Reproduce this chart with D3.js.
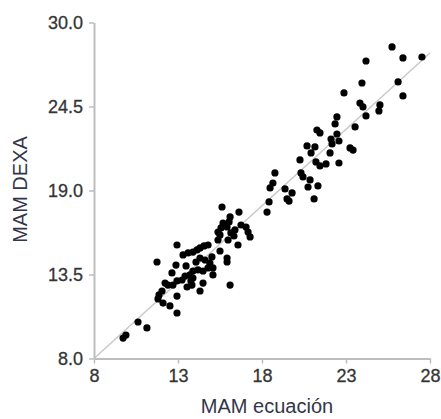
<!DOCTYPE html>
<html>
<head>
<meta charset="utf-8">
<script src="https://cdn.jsdelivr.net/npm/d3@7/dist/d3.min.js"></script>
<style>
  html, body { margin: 0; padding: 0; background: #fff; }
  svg { display: block; }
  text { font-family: "Liberation Sans", Arial, sans-serif; }
</style>
</head>
<body>
<svg id="chart" width="441" height="419"></svg>
<script>
// ---- Data ----
const xTicks = [8, 13, 18, 23, 28];
const yTicks = [8.0, 13.5, 19.0, 24.5, 30.0];
const xTitle = "MAM ecuación";
const yTitle = "MAM DEXA";
// MAM ecuación (x) values
const mamEcuacion = [
  25.74, 26.39, 27.52, 24.19, 23.95, 26.10, 22.88, 26.39, 23.83, 24.01,
  25.02, 24.96, 24.19, 23.54, 22.46, 22.35, 21.27, 21.45, 22.46, 22.11,
  22.58, 22.17, 20.68, 21.15, 23.24, 23.42, 20.92, 22.05, 20.26, 21.21,
  21.45, 21.81, 22.58, 18.77, 20.32, 20.44, 20.86, 20.74, 18.65, 18.48,
  21.33, 19.37, 19.79, 19.49, 19.61, 21.10, 18.42, 18.30, 15.62, 16.63,
  16.10, 16.04, 15.92, 15.68, 15.56, 15.38, 15.50, 16.75, 17.05, 17.17,
  17.29, 16.39, 16.15, 16.33, 16.57, 12.94, 13.30, 13.60, 13.89, 14.13,
  14.31, 14.55, 14.79, 15.38, 15.98, 15.50, 15.92, 15.92, 11.75, 12.88,
  12.64, 14.31, 14.61, 14.90, 15.08, 14.79, 14.49, 14.19, 13.89, 13.71,
  13.42, 13.24, 12.94, 12.70, 12.40, 12.23, 12.05, 11.87, 11.81, 14.49,
  14.31, 13.83, 13.54, 12.94, 12.11, 12.52, 12.94, 16.10, 15.08, 10.62,
  11.15, 9.90, 9.73, 15.02, 14.07, 13.48, 13.89, 13.77
];
// MAM DEXA (y) values
const mamDexa = [
  28.40, 27.68, 27.74, 27.48, 26.04, 26.11, 25.39, 25.19, 24.73, 24.47,
  24.60, 24.21, 23.88, 23.16, 23.82, 23.36, 22.96, 22.77, 22.70, 22.37,
  22.24, 22.05, 21.92, 21.85, 21.79, 21.65, 21.46, 21.46, 21.00, 20.87,
  20.61, 20.74, 20.80, 20.15, 20.15, 19.89, 19.69, 19.23, 19.49, 19.17,
  19.30, 19.10, 18.84, 18.45, 18.31, 18.45, 18.25, 17.59, 17.92, 17.59,
  17.27, 16.94, 16.61, 16.87, 16.55, 16.28, 16.09, 16.74, 16.61, 16.28,
  15.96, 16.42, 16.22, 16.02, 15.43, 15.43, 14.78, 14.91, 14.97, 15.11,
  15.24, 15.37, 15.43, 15.76, 15.76, 15.04, 14.58, 14.32, 14.32, 14.12,
  13.60, 14.58, 14.45, 14.25, 13.93, 13.93, 13.73, 13.80, 13.73, 13.47,
  13.40, 13.14, 13.08, 12.81, 12.81, 12.94, 12.42, 12.16, 11.90, 12.94,
  12.42, 12.81, 12.68, 12.09, 11.63, 11.44, 10.98, 12.81, 13.47, 10.39,
  10.00, 9.54, 9.34, 14.65, 14.32, 14.06, 13.27, 13.08
];
const identityLine = [8, 28];

// ---- Layout ----
const svg = d3.select("#chart");
const margin = { left: 94, right: 11, top: 22.5, bottom: 60.5 };
const W = 441, H = 419;
const x = d3.scaleLinear().domain([8, 28]).range([margin.left, W - margin.right]);
const y = d3.scaleLinear().domain([8, 30]).range([H - margin.bottom, margin.top]);

const axisColor = "#bdbdbd";
const labelColor = "#353535";

// identity line
svg.append("line")
  .attr("x1", x(identityLine[0])).attr("y1", y(identityLine[0]))
  .attr("x2", x(identityLine[1])).attr("y2", y(identityLine[1]))
  .attr("stroke", "#c9c9c9").attr("stroke-width", 1.5);

// x axis
const xAxis = svg.append("g")
  .attr("transform", `translate(0,${y(8)})`)
  .call(d3.axisBottom(x).tickValues(xTicks).tickFormat(d3.format("d")).tickSize(5).tickSizeOuter(0).tickPadding(6));
// y axis
const yAxis = svg.append("g")
  .attr("transform", `translate(${x(8)},0)`)
  .call(d3.axisLeft(y).tickValues(yTicks).tickFormat(d3.format(".1f")).tickSize(5).tickSizeOuter(0).tickPadding(6));

[xAxis, yAxis].forEach(g => {
  g.select(".domain").attr("stroke", axisColor).attr("stroke-width", 2);
  g.selectAll(".tick line").attr("stroke", axisColor).attr("stroke-width", 1.5);
  g.selectAll(".tick text")
    .attr("fill", labelColor)
    .attr("stroke", labelColor).attr("stroke-width", 0.3)
    .style("font-family", "'Liberation Sans', Arial, sans-serif")
    .style("font-size", "18px");
});

// points
const pts = mamEcuacion.map((v, i) => ({ x: v, y: mamDexa[i] }));
svg.append("g").selectAll("circle").data(pts).join("circle")
  .attr("cx", d => x(d.x)).attr("cy", d => y(d.y))
  .attr("r", 3.6).attr("fill", "#000");

// titles
svg.append("text")
  .attr("x", (x(8) + x(28)) / 2 + 5).attr("y", 413)
  .attr("text-anchor", "middle")
  .attr("fill", "#33364a")
  .style("font-size", "20px")
  .text(xTitle);

svg.append("text")
  .attr("transform", `translate(27,${(y(8) + y(30)) / 2 - 1}) rotate(-90)`)
  .attr("text-anchor", "middle")
  .attr("fill", "#33364a")
  .style("font-size", "20px")
  .text(yTitle);
</script>
</body>
</html>
